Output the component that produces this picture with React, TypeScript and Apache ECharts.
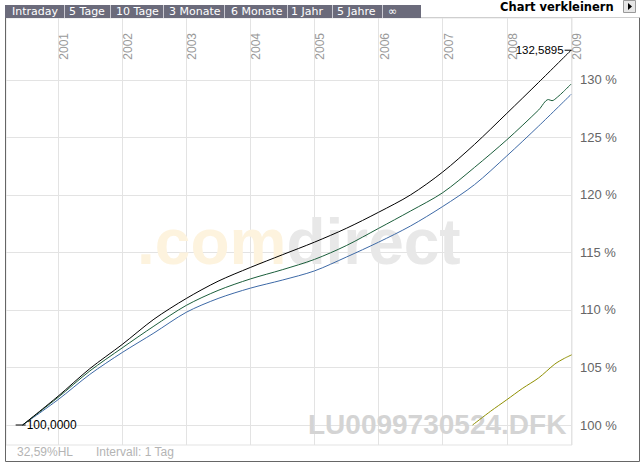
import React, { useEffect, useRef } from 'react';
import * as echarts from 'echarts';

// ---- data ----
const yearTicks = [2001, 2002, 2003, 2004, 2005, 2006, 2007, 2008, 2009];
const percentTicks = [100, 105, 110, 115, 120, 125, 130];
const tabLabels = ['Intraday', '5 Tage', '10 Tage', '3 Monate', '6 Monate', '1 Jahr', '5 Jahre', '\u221e'];

const blackDates = ['2000-06-13', '2001-01-01', '2001-07-01', '2002-01-01', '2002-07-01', '2003-01-01', '2003-07-01', '2004-01-01', '2004-07-01', '2005-01-01', '2005-07-01', '2006-01-01', '2006-07-01', '2007-01-01', '2007-07-01', '2008-01-01', '2008-07-01', '2009-01-02'];
const blackValues = [100, 102.5, 104.9, 107.0, 109.2, 111.0, 112.5, 113.7, 114.8, 115.9, 117.1, 118.5, 120.0, 122.0, 124.4, 127.1, 129.8, 132.5895];

const greenDates = ['2000-06-13', '2001-01-01', '2001-07-01', '2002-01-01', '2002-07-01', '2003-01-01', '2003-07-01', '2004-01-01', '2004-07-01', '2005-01-01', '2005-07-01', '2006-01-01', '2006-07-01', '2007-01-01', '2007-07-01', '2008-01-01', '2008-07-01', '2008-08-25', '2008-09-15', '2008-10-15', '2008-11-20', '2009-01-02'];
const greenValues = [100, 102.4, 104.7, 106.7, 108.6, 110.4, 111.7, 112.7, 113.5, 114.4, 115.6, 117.1, 118.6, 120.2, 122.4, 124.8, 127.4, 128.3, 128.2, 128.5, 129.0, 129.65];

const blueDates = ['2000-06-13', '2001-01-01', '2001-07-01', '2002-01-01', '2002-07-01', '2003-01-01', '2003-07-01', '2004-01-01', '2004-07-01', '2005-01-01', '2005-07-01', '2006-01-01', '2006-07-01', '2007-01-01', '2007-07-01', '2008-01-01', '2008-07-01', '2009-01-02'];
const blueValues = [100, 102.2, 104.4, 106.3, 108.0, 109.8, 111.0, 111.9, 112.6, 113.4, 114.6, 115.9, 117.3, 119.0, 120.9, 123.4, 126.0, 128.75];

const oliveDates = ['2007-06-20', '2007-10-01', '2008-01-01', '2008-04-01', '2008-07-01', '2008-10-01', '2008-11-25', '2009-01-05'];
const oliveValues = [100, 101.2, 102.2, 103.2, 104.1, 105.3, 105.8, 106.1];

const axisStart = '2000-03-10';
const axisEnd = '2009-01-07';
const yMin = 98.261;
const yMax = 135.391;

// date string -> fractional year
const toYear = (s: string) => {
  const [y, m, d] = s.split('-').map(Number);
  const t = new Date(y, m - 1, d).getTime();
  const a = new Date(y, 0, 1).getTime();
  const b = new Date(y + 1, 0, 1).getTime();
  return y + (t - a) / (b - a);
};
const zip = (dates: string[], vals: number[]) => dates.map((d, i) => [toYear(d), vals[i]]);
const fmt = (v: number) => v.toFixed(4).replace('.', ',');

const FONT = '"Liberation Sans", Arial, sans-serif';
const VFONT = '"DejaVu Sans", Verdana, sans-serif';

export default function App() {
  const ref = useRef<HTMLDivElement>(null);
  useEffect(() => {
    if (!ref.current) return;
    const chart = echarts.init(ref.current, undefined, { renderer: 'svg' });

    // tab layout
    const tabX = [12, 69, 116, 169, 231, 291, 337, 388];
    const sepX = [64, 110, 163, 224, 287, 332, 382];
    const graphics: any[] = [];
    graphics.push({ type: 'rect', z: 100, shape: { x: 5, y: 5, width: 416, height: 13 }, style: { fill: '#6b6b7b' } });
    sepX.forEach((x) => graphics.push({ type: 'line', z: 101, shape: { x1: x + 0.5, y1: 5, x2: x + 0.5, y2: 18 }, style: { stroke: '#c8c8d0', lineWidth: 1 } }));
    tabLabels.forEach((t, i) => graphics.push({ type: 'text', z: 102, x: tabX[i], y: 11.5, style: { text: t, fill: '#ffffff', fontSize: 11, fontFamily: VFONT, verticalAlign: 'middle' } }));
    graphics.push({ type: 'text', z: 102, x: 500, y: 6.5, style: { text: 'Chart verkleinern', fill: '#000', fontSize: 11.5, fontWeight: 'bold', fontFamily: VFONT, verticalAlign: 'middle' } });
    graphics.push({ type: 'rect', z: 102, shape: { x: 623.5, y: 0.5, width: 12, height: 12 }, style: { fill: '#e6e6e6', stroke: '#999', lineWidth: 1 } });
    graphics.push({ type: 'polygon', z: 103, shape: { points: [[628, 3], [628, 10], [632, 6.5]] }, style: { fill: '#000' } });
    // frame
    graphics.push({ type: 'line', z: 100, shape: { x1: 5.5, y1: 18, x2: 5.5, y2: 461.5 }, style: { stroke: '#666', lineWidth: 1 } });
    graphics.push({ type: 'line', z: 100, shape: { x1: 5.5, y1: 461.5, x2: 639.5, y2: 461.5 }, style: { stroke: '#666', lineWidth: 1 } });
    graphics.push({ type: 'line', z: 100, shape: { x1: 639.5, y1: 17.5, x2: 639.5, y2: 461.5 }, style: { stroke: '#666', lineWidth: 1 } });
    graphics.push({ type: 'line', z: 100, shape: { x1: 421, y1: 17.5, x2: 639.5, y2: 17.5 }, style: { stroke: '#cfcfcf', lineWidth: 1 } });
    // footer
    graphics.push({ type: 'text', z: 100, x: 17, y: 452, style: { text: '32,59%HL', fill: '#b4b4b4', fontSize: 12, fontFamily: FONT, verticalAlign: 'middle' } });
    graphics.push({ type: 'text', z: 100, x: 96, y: 452, style: { text: 'Intervall: 1 Tag', fill: '#b4b4b4', fontSize: 12, fontFamily: FONT, verticalAlign: 'middle' } });
    // watermarks
    graphics.push({
      type: 'text', z: 1, x: 137, y: 242,
      style: {
        text: '{a|.com}{b|direct}', verticalAlign: 'middle', fontSize: 64, fontWeight: 'bold', fontFamily: FONT,
        rich: {
          a: { fill: '#fdf3de', fontSize: 64, fontWeight: 'bold', fontFamily: FONT },
          b: { fill: '#e8e8e8', fontSize: 64, fontWeight: 'bold', fontFamily: FONT },
        },
      },
    });
    graphics.push({ type: 'text', z: 1, x: 308, y: 424, style: { text: 'LU0099730524.DFK', fill: '#d4d4d4', fontSize: 28, fontWeight: 'bold', fontFamily: FONT, verticalAlign: 'middle' } });

    const lastB = blackValues.length - 1;
    chart.setOption({
      animation: false,
      backgroundColor: '#ffffff',
      grid: { left: 6, right: 72, top: 18, bottom: 22, show: true, borderColor: '#e3e3e3', borderWidth: 1 },
      xAxis: {
        type: 'value',
        position: 'top',
        min: toYear(axisStart),
        max: toYear(axisEnd),
        axisLine: { show: false },
        axisTick: { show: false, customValues: yearTicks },
        axisLabel: {
          show: true, inside: true, rotate: -90, margin: 15, customValues: yearTicks,
          formatter: (v: number) => String(Math.round(v)),
          color: '#9a9a9a', fontSize: 12, fontFamily: FONT, align: 'right', verticalAlign: 'top',
        },
        splitLine: { show: true, lineStyle: { color: '#e3e3e3', width: 1 } },
      },
      yAxis: {
        type: 'value',
        position: 'right',
        min: yMin,
        max: yMax,
        axisLine: { show: false },
        axisTick: { show: false, customValues: percentTicks },
        axisLabel: { customValues: percentTicks, formatter: '{value} %', color: '#666', fontSize: 13, fontFamily: FONT, margin: 8 },
        splitLine: { show: true, lineStyle: { color: '#e3e3e3', width: 1 } },
      },
      graphic: { elements: graphics },
      series: [
        { type: 'line', data: zip(oliveDates, oliveValues), symbol: 'none', smooth: 0.3, z: 3, lineStyle: { color: '#8f8f00', width: 1 } },
        { type: 'line', data: zip(blueDates, blueValues), symbol: 'none', smooth: 0.3, z: 4, lineStyle: { color: '#3d69a6', width: 1 } },
        { type: 'line', data: zip(greenDates, greenValues), symbol: 'none', smooth: 0.3, z: 5, lineStyle: { color: '#1b5e3b', width: 1 } },
        {
          type: 'line', data: zip(blackDates, blackValues), symbol: 'none', smooth: 0.3, z: 6, lineStyle: { color: '#000', width: 1 },
          markPoint: {
            silent: true,
            symbol: 'rect',
            itemStyle: { color: '#000' },
            label: { show: true, color: '#000', fontSize: 11.5, fontFamily: FONT },
            data: [
              { coord: [toYear(blackDates[0]), blackValues[0]], symbolSize: [10, 1], symbolOffset: [-2, 0], label: { position: 'right', distance: 1, fontSize: 12, formatter: fmt(blackValues[0]) } },
              { coord: [toYear(blackDates[lastB]), blackValues[lastB]], symbolSize: [7, 1], symbolOffset: [-3, 0], label: { position: 'left', distance: 1, formatter: fmt(blackValues[lastB]) } },
            ],
          },
        },
      ],
    });
    return () => chart.dispose();
  }, []);
  return <div ref={ref} style={{ position: 'fixed', left: 0, top: 0, width: 644, height: 467, background: '#fff' }} />;
}
